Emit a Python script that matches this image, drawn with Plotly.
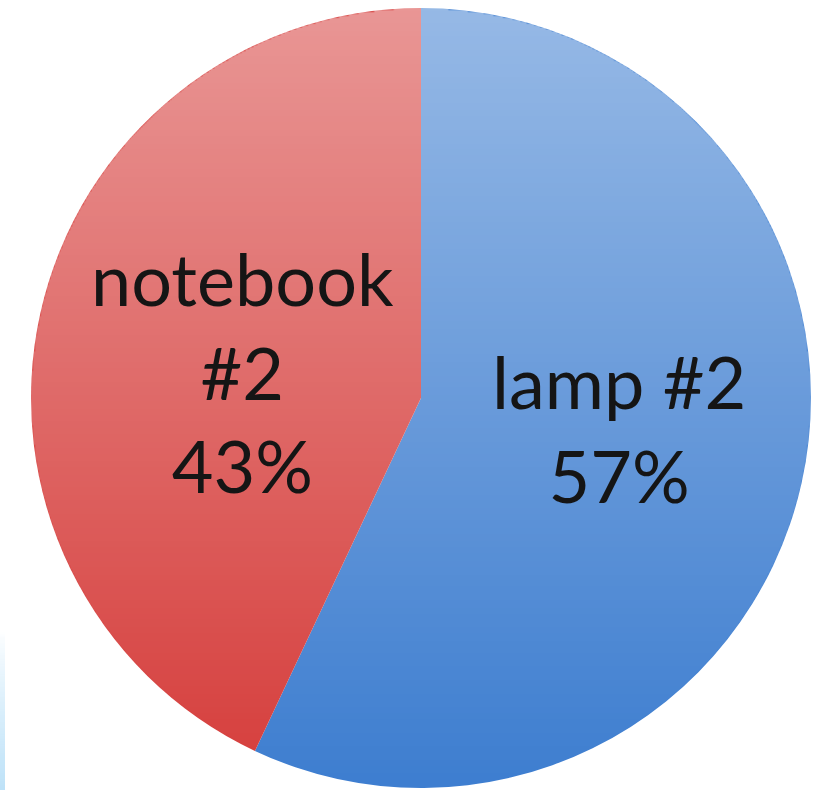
import base64
import math
import struct
import zlib

import numpy as np
import plotly.graph_objects as go

# Share of items
labels = ["lamp #2", "notebook #2"]
shares = [57, 43]
label_lines = ["lamp #2", "notebook<br>#2"]
colors = ["#3e7ed0", "#d63e3c"]

W, H = 827, 790
margin = dict(l=31, r=16, t=8, b=2)
plot_w = W - margin["l"] - margin["r"]
plot_h = H - margin["t"] - margin["b"]

# label placement: fraction of the radius along each slice's mid-angle, plus a pixel nudge
label_radius = [0.52, 0.47]
label_yshift = [14, -13]


def png_data_uri(rgba):
    """Encode an RGBA uint8 array as a PNG data URI."""
    h, w, _ = rgba.shape
    raw = b"".join(b"\x00" + rgba[y].tobytes() for y in range(h))

    def chunk(tag, data):
        c = struct.pack(">I", len(data)) + tag + data
        return c + struct.pack(">I", zlib.crc32(tag + data) & 0xFFFFFFFF)

    png = b"\x89PNG\r\n\x1a\n"
    png += chunk(b"IHDR", struct.pack(">IIBBBBB", w, h, 8, 6, 0, 0, 0))
    png += chunk(b"IDAT", zlib.compress(raw, 9))
    png += chunk(b"IEND", b"")
    return "data:image/png;base64," + base64.b64encode(png).decode()


# White sheen fading from the top of the disc down to nothing at the bottom
n = 400
yy, xx = np.mgrid[0:n, 0:n]
c = (n - 1) / 2
disc = ((xx - c) ** 2 + (yy - c) ** 2) <= (n / 2) ** 2
t = yy / (n - 1)  # 0 top .. 1 bottom
shade = np.zeros((n, n, 4), dtype=np.uint8)
shade[..., :3] = 255
shade[..., 3] = ((1 - t) * 0.46 * 255 * disc).astype(np.uint8)

# Pale blue strip along the lower left border
strip = np.zeros((64, 1, 4), dtype=np.uint8)
strip[..., 0], strip[..., 1], strip[..., 2] = 190, 226, 248
strip[:, 0, 3] = (np.linspace(0, 1, 64) ** 0.8 * 255).astype(np.uint8)

fig = go.Figure(
    go.Pie(
        labels=labels,
        values=shares,
        textinfo="none",
        sort=False,
        direction="clockwise",
        rotation=0,
        marker=dict(colors=colors, line=dict(width=0)),
        showlegend=False,
        hoverinfo="label+percent",
    )
)

# Slice labels, placed along each slice's mid-angle (clockwise from 12 o'clock)
total = sum(shares)
annotations = []
start = 0.0
for line, share, frac, ys in zip(label_lines, shares, label_radius, label_yshift):
    sweep = 360.0 * share / total
    mid = math.radians(start + sweep / 2)
    start += sweep
    annotations.append(
        dict(
            text=f"{line}<br>{round(100 * share / total)}%",
            xref="paper",
            yref="paper",
            x=0.5 + 0.5 * frac * math.sin(mid) * min(plot_w, plot_h) / plot_w,
            y=0.5 + 0.5 * frac * math.cos(mid) * min(plot_w, plot_h) / plot_h,
            xanchor="center",
            yanchor="middle",
            yshift=ys,
            showarrow=False,
            font=dict(family="Lato, Open Sans, sans-serif", size=72, color="#151515"),
        )
    )

fig.update_layout(
    width=W,
    height=H,
    margin=margin,
    paper_bgcolor="white",
    plot_bgcolor="white",
    annotations=annotations,
    images=[
        dict(
            source=png_data_uri(shade),
            xref="paper",
            yref="paper",
            x=0,
            y=1,
            sizex=1,
            sizey=1,
            xanchor="left",
            yanchor="top",
            sizing="stretch",
            layer="above",
        ),
        dict(
            source=png_data_uri(strip),
            xref="paper",
            yref="paper",
            x=-margin["l"] / plot_w,
            y=(H - margin["b"] - 630) / plot_h,
            sizex=5 / plot_w,
            sizey=160 / plot_h,
            xanchor="left",
            yanchor="top",
            sizing="stretch",
            layer="above",
        ),
    ],
)

fig.write_html("out.html")
